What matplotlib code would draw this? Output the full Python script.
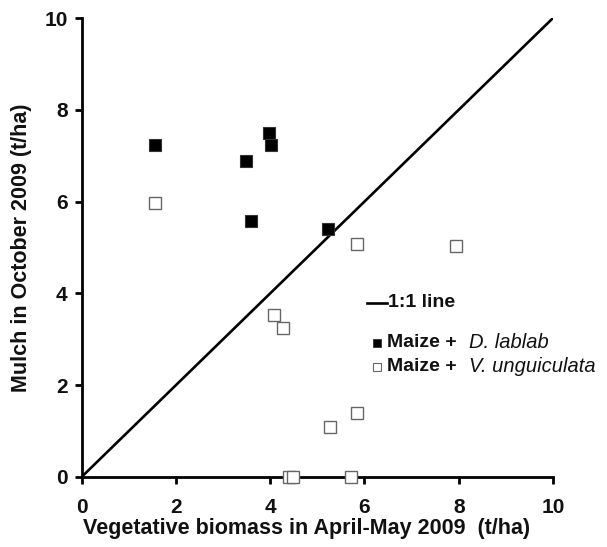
import matplotlib
matplotlib.use("Agg")
import matplotlib.pyplot as plt

plt.rcParams['font.family'] = ['Liberation Sans', 'DejaVu Sans']

# Maize + D. lablab
lablab_x = [1.56, 3.98, 4.02, 3.49, 3.60, 5.23]
lablab_y = [7.23, 7.49, 7.23, 6.88, 5.58, 5.40]
# Maize + V. unguiculata
ungui_x = [1.56, 5.85, 7.95, 4.09, 4.28, 5.28, 5.85, 4.40, 4.49, 5.72]
ungui_y = [5.97, 5.08, 5.03, 3.53, 3.25, 1.09, 1.39, 0.0, 0.0, 0.0]
# 1:1 line
line_vals = [0, 10]
ticks = [0, 2, 4, 6, 8, 10]

TXT = '#111111'
fig = plt.figure(figsize=(6.07, 5.47), dpi=100)
ax = fig.add_axes([0.1344, 0.128, 0.7766, 0.839])

ax.plot(line_vals, line_vals, color='black', lw=1.9, solid_capstyle='round', zorder=2)
ax.plot(lablab_x, lablab_y, ls='none', marker='s', ms=8, mfc='black', mec='#333333', mew=0.8, zorder=3, clip_on=False)
ax.plot(ungui_x, ungui_y, ls='none', marker='s', ms=8, mfc='white', mec='#666666', mew=1.0, zorder=3, clip_on=False)

ax.set_xlim(0, 10)
ax.set_ylim(0, 10)
ax.set_xticks(ticks)
ax.set_yticks(ticks)
ax.set_xticklabels([str(t) for t in ticks], fontsize=15, fontweight='bold', color=TXT)
ax.set_yticklabels([str(t) for t in ticks], fontsize=15, fontweight='bold', color=TXT)
for s in ['top', 'right']:
    ax.spines[s].set_visible(False)
for s in ['left', 'bottom']:
    ax.spines[s].set_linewidth(2)
ax.tick_params(direction='out', length=5, width=2)
ax.tick_params(axis='x', pad=10)
ax.tick_params(axis='y', pad=5)

ax.text(0.478, -0.113, 'Vegetative biomass in April-May 2009  (t/ha)', transform=ax.transAxes,
        fontsize=15.5, fontweight='bold', ha='center', va='center', color=TXT)
ax.set_ylabel('Mulch in October 2009 (t/ha)', fontsize=15.5, fontweight='bold', color=TXT)
ax.yaxis.set_label_coords(-0.105, 0.5)

# legend drawn manually (mixed bold / italic text)
lx_line = [0.605, 0.647]
ax.plot(lx_line, [0.380, 0.380], transform=ax.transAxes, color='black', lw=1.9, clip_on=False)
ax.text(0.650, 0.380, '1:1 line', transform=ax.transAxes, fontsize=14, fontweight='bold',
        va='center', ha='left', color=TXT)
ax.plot([0.627], [0.292], transform=ax.transAxes, ls='none', marker='s', ms=5.5,
        mfc='black', mec='#333333', mew=0.6, clip_on=False)
ax.text(0.648, 0.292, 'Maize +', transform=ax.transAxes, fontsize=14, fontweight='bold',
        va='center', ha='left', color=TXT)
ax.text(0.822, 0.292, 'D. lablab', transform=ax.transAxes, fontsize=14.5, fontstyle='italic',
        va='center', ha='left', color=TXT)
ax.plot([0.627], [0.240], transform=ax.transAxes, ls='none', marker='s', ms=5.5,
        mfc='white', mec='#666666', mew=0.8, clip_on=False)
ax.text(0.648, 0.240, 'Maize +', transform=ax.transAxes, fontsize=14, fontweight='bold',
        va='center', ha='left', color=TXT)
ax.text(0.822, 0.240, 'V. unguiculata', transform=ax.transAxes, fontsize=14.5, fontstyle='italic',
        va='center', ha='left', color=TXT)

fig.savefig('out.png', dpi=100)
